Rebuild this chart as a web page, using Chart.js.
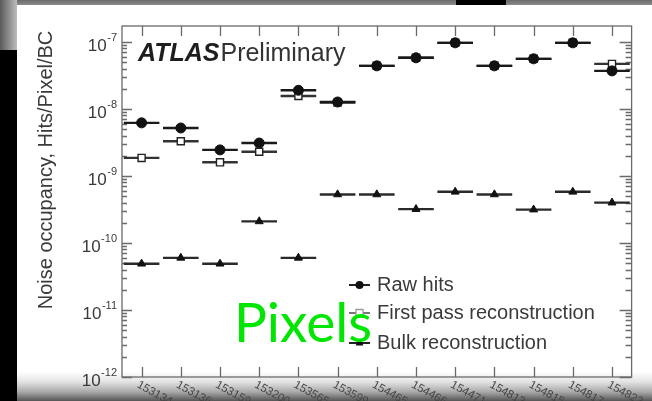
<!DOCTYPE html>
<html><head><meta charset="utf-8">
<script src="https://cdn.jsdelivr.net/npm/chart.js@4.4.1/dist/chart.umd.min.js"></script>
<style>
html,body{margin:0;padding:0;background:#000;overflow:hidden}
#wrap{position:relative;width:652px;height:401px;overflow:hidden;background:#000}
#topstrip{position:absolute;left:0;top:0;width:652px;height:5px;background:linear-gradient(#6a6a6a,#8c8c8c)}
#blk{position:absolute;left:456px;top:0;width:50px;height:5px;background:#000}
#corner{position:absolute;left:0;top:0;width:17px;height:50px;background:linear-gradient(90deg,#5a5a5a,#bdbdbd)}
#panel{position:absolute;left:17px;top:5px;width:635px;height:396px;background:linear-gradient(180deg,#fff 0px,#fff 367px,#e2e2e2 377px,#a8a8a8 387px,#555 396px)}
#c{position:absolute;left:0;top:0;filter:blur(0.5px)}
</style></head>
<body>
<div id="wrap">
  <div id="topstrip"></div><div id="blk"></div><div id="corner"></div><div id="panel"></div>
  <canvas id="c" width="652" height="401"></canvas>
</div>
<script>
const runs = ['153134','153136','153159','153200','153565','153599','154465','154466','154471','154813','154815','154817','154822'];
const rawHits   = [6.2e-9, 5.2e-9, 2.45e-9, 3.1e-9, 1.9e-8, 1.27e-8, 4.4e-8, 5.8e-8, 9.7e-8, 4.4e-8, 5.6e-8, 9.7e-8, 3.7e-8];
const firstPass = [1.86e-9, 3.3e-9, 1.6e-9, 2.3e-9, 1.56e-8, 1.25e-8, 4.4e-8, 5.8e-8, 9.7e-8, 4.4e-8, 5.6e-8, 9.7e-8, 4.7e-8];
const bulkReco  = [4.9e-11, 6.0e-11, 4.9e-11, 2.1e-10, 6.0e-11, 5.3e-10, 5.3e-10, 3.2e-10, 5.8e-10, 5.3e-10, 3.15e-10, 5.8e-10, 4.0e-10];
const yExponents = [-12, -11, -10, -9, -8, -7];
const seriesNames = ['Raw hits', 'First pass reconstruction', 'Bulk reconstruction'];
const yMin = 1e-12, yMax = 1.73e-7;

const FONT = '"Liberation Sans", Arial, Helvetica, sans-serif';
const halfBin = ctx => {
  const a = ctx.chart.chartArea;
  return a ? (a.right - a.left) / runs.length / 2 - 1.8 : 18;
};

function barSet(data, order, color) {
  return { data, showLine: false, pointStyle: 'line', pointRadius: halfBin, pointHoverRadius: halfBin,
    borderColor: color, pointBorderColor: color, pointBorderWidth: 2.4, order };
}

const datasets = [
  { label: seriesNames[0], data: rawHits, showLine: false, pointStyle: 'circle', pointRadius: 5,
    pointBackgroundColor: '#111', pointBorderColor: '#111', pointBorderWidth: 1, order: 0 },
  { label: seriesNames[1], data: firstPass, showLine: false, pointStyle: 'rect', pointRadius: 5,
    pointBackgroundColor: '#fff', pointBorderColor: '#222', pointBorderWidth: 1.4, order: 1 },
  { label: seriesNames[2], data: bulkReco, showLine: false, pointStyle: 'triangle', pointRadius: 4.6,
    pointBackgroundColor: '#111', pointBorderColor: '#111', pointBorderWidth: 1, order: 2 },
  barSet(rawHits, 3, '#1a1a1a'),
  barSet(firstPass, 4, '#333'),
  barSet(bulkReco, 5, '#2a2a2a')
];

function drawMarker(ctx, style, x, y) {
  ctx.save();
  ctx.fillStyle = '#111'; ctx.strokeStyle = '#222'; ctx.lineWidth = 1.3;
  ctx.beginPath();
  if (style === 'circle') { ctx.arc(x, y, 4, 0, Math.PI * 2); ctx.fill(); }
  else if (style === 'rect') { ctx.fillStyle = '#fff'; ctx.strokeStyle = '#999'; ctx.rect(x - 3.5, y - 3.5, 7, 7); ctx.fill(); ctx.stroke(); }
  else { ctx.moveTo(x, y - 4.5); ctx.lineTo(x + 4, y + 2.5); ctx.lineTo(x - 4, y + 2.5); ctx.closePath(); ctx.fill(); }
  ctx.restore();
}

const rootStyle = {
  id: 'rootStyle',
  beforeDatasetsDraw(chart) {
    const { ctx, chartArea: a, scales: { x, y } } = chart;
    ctx.save();
    ctx.strokeStyle = '#6a6a6a';
    ctx.lineWidth = 1.3;
    ctx.strokeRect(a.left, a.top, a.right - a.left, a.bottom - a.top);
    ctx.beginPath();
    yExponents.forEach(e => {
      for (let m = 1; m <= 9; m++) {
        const v = m * Math.pow(10, e);
        if (v < yMin * 0.999 || v > yMax) continue;
        const py = Math.round(y.getPixelForValue(v)) + 0.5;
        const lenL = m === 1 ? 10 : 5, lenR = m === 1 ? 12 : 6;
        ctx.moveTo(a.left, py); ctx.lineTo(a.left + lenL, py);
        ctx.moveTo(a.right, py); ctx.lineTo(a.right - lenR, py);
      }
    });
    runs.forEach((r, i) => {
      const px = Math.round(x.getPixelForValue(i)) + 0.5;
      ctx.moveTo(px, a.bottom); ctx.lineTo(px, a.bottom - 10);
      ctx.moveTo(px, a.top); ctx.lineTo(px, a.top + 10);
    });
    ctx.stroke();
    ctx.restore();
  },
  afterDraw(chart) {
    const { ctx, chartArea: a, scales: { x, y } } = chart;
    ctx.save();
    // y tick labels
    ctx.fillStyle = '#3a3a3a';
    yExponents.forEach(e => {
      const py = y.getPixelForValue(Math.pow(10, e));
      ctx.textAlign = 'right'; ctx.textBaseline = 'alphabetic';
      ctx.font = '11px ' + FONT;
      const exp = String(e);
      ctx.fillText(exp, 117, py - 1);
      const w = ctx.measureText(exp).width;
      ctx.font = '17px ' + FONT;
      ctx.fillText('10', 117 - w - 0.5, py + 9);
    });
    // x tick labels (rotated)
    ctx.fillStyle = '#444';
    ctx.font = '11.5px ' + FONT;
    ctx.textAlign = 'left'; ctx.textBaseline = 'top';
    runs.forEach((r, i) => {
      const px = x.getPixelForValue(i);
      ctx.save();
      ctx.translate(px - 1, a.bottom + 2);
      ctx.rotate(29 * Math.PI / 180);
      ctx.fillText(r, 0, 0);
      ctx.restore();
    });
    // y axis title
    ctx.save();
    ctx.translate(46, 170);
    ctx.rotate(-Math.PI / 2);
    ctx.font = '20px ' + FONT;
    ctx.fillStyle = '#3a3a3a';
    ctx.textAlign = 'center'; ctx.textBaseline = 'middle';
    ctx.fillText('Noise occupancy, Hits/Pixel/BC', 0, 0);
    ctx.restore();
    // ATLAS Preliminary
    ctx.fillStyle = '#1e1e1e';
    ctx.textAlign = 'left'; ctx.textBaseline = 'alphabetic';
    ctx.font = 'italic bold 25px ' + FONT;
    ctx.fillText('ATLAS', 138, 61);
    const wA = ctx.measureText('ATLAS').width;
    ctx.fillStyle = '#333';
    ctx.font = '25px ' + FONT;
    ctx.fillText('Preliminary', 138 + wA + 1, 61);
    // legend
    const rows = [285, 313, 343];
    const styles = ['circle', 'rect', 'triangle'];
    seriesNames.forEach((n, i) => {
      const ly = rows[i];
      ctx.save();
      ctx.strokeStyle = i === 1 ? '#777' : '#222'; ctx.lineWidth = 2;
      ctx.beginPath(); ctx.moveTo(349, ly); ctx.lineTo(370, ly); ctx.stroke();
      ctx.restore();
      drawMarker(ctx, styles[i], 359.5, ly);
      ctx.fillStyle = '#3a3a3a';
      ctx.font = '20px ' + FONT;
      ctx.textBaseline = 'middle'; ctx.textAlign = 'left';
      ctx.fillText(n, 377, ly);
    });
    // Pixels overlay
    ctx.fillStyle = '#00e600';
    ctx.font = '55px Lato, "Open Sans", sans-serif';
    ctx.textBaseline = 'alphabetic'; ctx.textAlign = 'left';
    ctx.fillText('Pixels', 234, 342);
    ctx.restore();
  }
};

new Chart(document.getElementById('c'), {
  type: 'line',
  data: { labels: runs, datasets },
  options: {
    responsive: false,
    animation: false,
    events: [],
    layout: { padding: { left: 122, right: 14, top: 26, bottom: 24 } },
    plugins: { legend: { display: false }, tooltip: { enabled: false }, title: { display: false } },
    scales: {
      x: { type: 'category', offset: true, display: false },
      y: { type: 'logarithmic', min: yMin, max: yMax, display: false }
    }
  },
  plugins: [rootStyle]
});
</script>
</body></html>
